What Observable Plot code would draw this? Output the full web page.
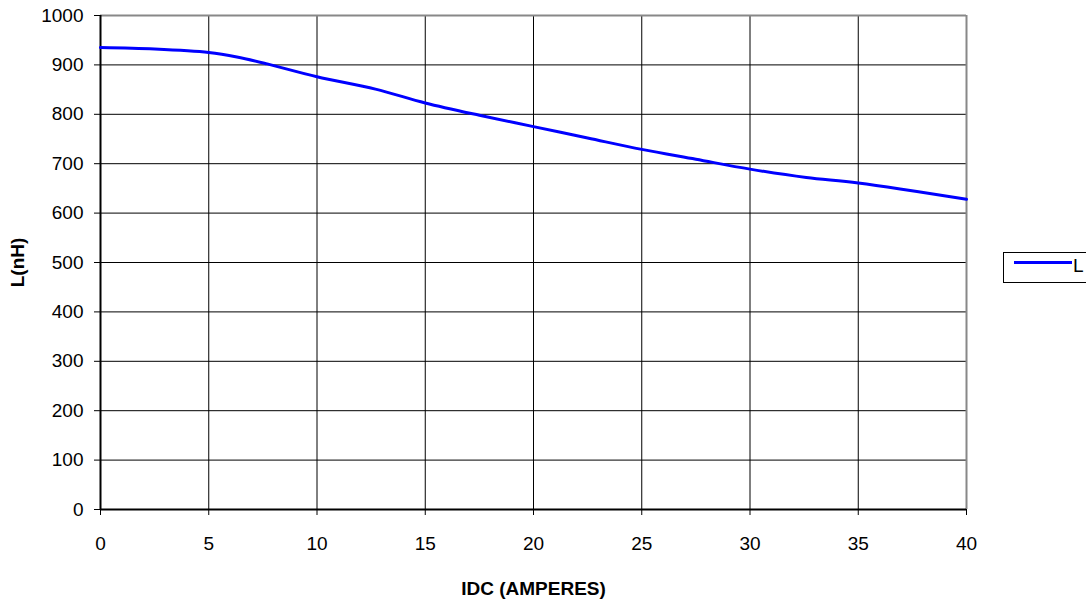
<!DOCTYPE html>
<html>
<head>
<meta charset="utf-8">
<script src="https://cdn.jsdelivr.net/npm/d3@7"></script>
<script src="https://cdn.jsdelivr.net/npm/@observablehq/plot@0.6"></script>
<style>
  html, body { margin: 0; padding: 0; background: #fff; }
  #wrap { position: relative; width: 1086px; height: 599px; overflow: hidden; font-family: "Liberation Sans", Arial, sans-serif; }
  #legend { position: absolute; left: 1003px; top: 252px; width: 100px; height: 31px; border: 1px solid #000; box-sizing: border-box; background: #fff; }
  #legend .sw { position: absolute; left: 10px; top: 8px; width: 58px; height: 3px; background: #0000ff; }
  #legend .lb { position: absolute; left: 69px; top: 2px; font-size: 19px; line-height: 22px; color: #000; }
</style>
</head>
<body>
<div id="wrap">
  <div id="chart"></div>
  <div id="legend"><div class="sw"></div><div class="lb">L</div></div>
</div>
<script>
const currentA = [0, 2.5, 5, 6.3, 7.7, 10, 12.7, 15, 17.5, 20, 22.5, 25, 27.5, 30, 32.6, 35, 40];
const inductanceNH = [935, 932, 925, 916, 902, 876, 851, 823, 798, 775, 752, 729, 709, 689, 672, 661, 628];
const xTicks = [0, 5, 10, 15, 20, 25, 30, 35, 40];
const yTicks = [0, 100, 200, 300, 400, 500, 600, 700, 800, 900, 1000];

const data = currentA.map((x, i) => ({x, y: inductanceNH[i]}));

const chart = Plot.plot({
  width: 1086,
  height: 599,
  marginLeft: 100,
  marginRight: 120,
  marginTop: 15,
  marginBottom: 90,
  style: { fontFamily: "'Liberation Sans', Arial, sans-serif", fontSize: "19px", color: "#000", background: "#fff", overflow: "visible" },
  x: { domain: [0, 40] },
  y: { domain: [0, 1000] },
  marks: [
    Plot.gridX(xTicks, { stroke: "#000", strokeOpacity: 1, strokeWidth: 1 }),
    Plot.gridY(yTicks, { stroke: "#000", strokeOpacity: 1, strokeWidth: 1 }),
    Plot.ruleY([1000], { stroke: "#888", strokeWidth: 2 }),
    Plot.ruleX([40], { stroke: "#888", strokeWidth: 2 }),
    Plot.axisX({ ticks: xTicks, tickSize: 6, tickPadding: 21, tickFormat: d => String(d), fontSize: 19,
                 label: "IDC (AMPERES)", labelAnchor: "center", labelArrow: "none", labelOffset: 85 }),
    Plot.axisY({ ticks: yTicks, tickSize: 6, tickPadding: 11, tickFormat: d => String(d), fontSize: 19,
                 label: "L(nH)", labelAnchor: "center", labelArrow: "none", labelOffset: 90 }),
    Plot.ruleX([0], { stroke: "#000", strokeWidth: 2 }),
    Plot.ruleY([0], { stroke: "#000", strokeWidth: 2 }),
    Plot.line(data, { x: "x", y: "y", stroke: "#0000ff", strokeWidth: 3, curve: "catmull-rom" })
  ]
});
d3.select(chart).selectAll("[aria-label='x-axis label'] text, [aria-label='y-axis label'] text")
  .style("font-weight", "bold").style("font-size", "19px");
document.getElementById("chart").appendChild(chart);
</script>
</body>
</html>
